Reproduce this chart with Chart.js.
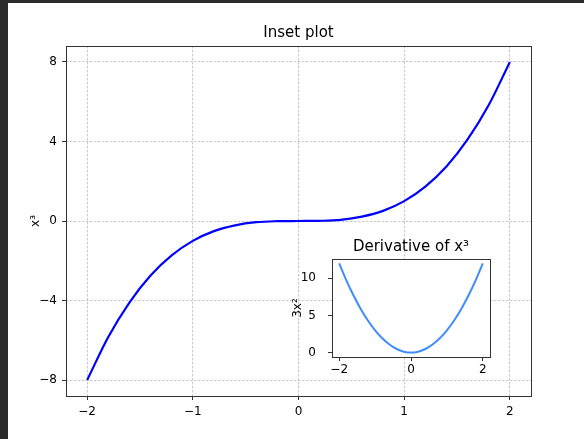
<!DOCTYPE html>
<html>
<head>
<meta charset="utf-8">
<script src="https://cdn.jsdelivr.net/npm/chart.js@4"></script>
<style>
html, body { margin: 0; padding: 0; background: #fff; }
#wrap { position: relative; width: 584px; height: 439px; overflow: hidden; }
.edge { position: absolute; background: #2b2b2b; }
#main { position: absolute; left: 0; top: 0; }
#inset { position: absolute; left: 280px; top: 228px; }
</style>
</head>
<body>
<div id="wrap">
  <div class="edge" style="left:0;top:0;width:8px;height:439px"></div>
  <div class="edge" style="left:0;top:0;width:584px;height:3px"></div>
  <canvas id="main" width="584" height="439"></canvas>
  <canvas id="inset" width="215" height="150"></canvas>
</div>
<script>
// values
var xs = [-2, -1.8, -1.6, -1.4, -1.2, -1, -0.8, -0.6, -0.4, -0.2, 0,
          0.2, 0.4, 0.6, 0.8, 1, 1.2, 1.4, 1.6, 1.8, 2];
var cube = [-8, -5.83, -4.1, -2.74, -1.73, -1, -0.51, -0.22, -0.06, -0.01, 0,
            0.01, 0.06, 0.22, 0.51, 1, 1.73, 2.74, 4.1, 5.83, 8];
var slope = [12, 9.72, 7.68, 5.88, 4.32, 3, 1.92, 1.08, 0.48, 0.12, 0,
             0.12, 0.48, 1.08, 1.92, 3, 4.32, 5.88, 7.68, 9.72, 12];

var mainXTicks = [-2, -1, 0, 1, 2];
var mainYTicks = [-8, -4, 0, 4, 8];
var insetXTicks = [-2, 0, 2];
var insetYTicks = [0, 5, 10];

var FONT = 'DejaVu Sans';

function pts(ys) {
    return xs.map(function (x, i) { return { x: x, y: ys[i] }; });
}
function fmt(v) {
    return String(v).replace('-', '\u2212');
}
function fixTicks(list) {
    return function (scale) {
        scale.ticks = list.map(function (v) { return { value: v }; });
    };
}

// white axes background + 4-sided spine like matplotlib
var frame = {
    id: 'frame',
    beforeDraw: function (chart, args, opts) {
        if (!opts.fill) return;
        var a = chart.chartArea, ctx = chart.ctx;
        ctx.save();
        ctx.fillStyle = '#fff';
        ctx.fillRect(a.left, a.top, a.right - a.left, a.bottom - a.top);
        ctx.restore();
    },
    afterDraw: function (chart) {
        var a = chart.chartArea, ctx = chart.ctx;
        ctx.save();
        ctx.strokeStyle = '#333';
        ctx.lineWidth = 1;
        ctx.strokeRect(Math.round(a.left) + 0.5, Math.round(a.top) + 0.5,
                       Math.round(a.right - a.left), Math.round(a.bottom - a.top));
        ctx.restore();
    }
};

function axis(min, max, ticks, size, horiz, gridOn, title, titlePad, tickPad) {
    return {
        type: 'linear',
        min: min,
        max: max,
        afterBuildTicks: fixTicks(ticks),
        afterFit: function (s) { if (horiz) s.height = size; else s.width = size; },
        grid: {
            drawOnChartArea: gridOn,
            color: '#b0b0b0',
            lineWidth: 0.7,
            tickLength: 4,
            tickColor: '#333',
            tickWidth: 1,
            tickBorderDash: [1, 0]
        },
        border: { display: false, dash: [2.5, 1.5] },
        ticks: {
            color: '#000',
            padding: tickPad,
            font: { family: FONT, size: 12 },
            maxRotation: 0,
            callback: fmt
        },
        title: {
            display: !!title,
            text: title,
            color: '#000',
            padding: { top: titlePad, bottom: 0 },
            font: { family: FONT, size: 12 }
        }
    };
}

new Chart(document.getElementById('main'), {
    type: 'scatter',
    data: {
        datasets: [{
            data: pts(cube),
            showLine: true,
            borderColor: '#0000ff',
            borderWidth: 2.2,
            pointRadius: 0,
            cubicInterpolationMode: 'monotone'
        }]
    },
    options: {
        responsive: false,
        animation: false,
        devicePixelRatio: 1,
        layout: { padding: { left: 0, right: 53, top: 0, bottom: 0 } },
        plugins: {
            legend: { display: false },
            tooltip: { enabled: false },
            frame: { fill: false },
            title: {
                display: true,
                text: 'Inset plot',
                fullSize: false,
                color: '#000',
                font: { family: FONT, size: 15, weight: 'normal' },
                padding: { top: 24, bottom: 4 }
            }
        },
        scales: {
            x: axis(-2.2, 2.2, mainXTicks, 43, true, true, '', 0, 5),
            y: axis(-8.8, 8.8, mainYTicks, 66, false, true, 'x\u00b3', 29, 5)
        }
    },
    plugins: [frame]
});

new Chart(document.getElementById('inset'), {
    type: 'scatter',
    data: {
        datasets: [{
            data: pts(slope),
            showLine: true,
            borderColor: '#3f8dfc',
            borderWidth: 2,
            pointRadius: 0,
            cubicInterpolationMode: 'monotone'
        }]
    },
    options: {
        responsive: false,
        animation: false,
        devicePixelRatio: 1,
        layout: { padding: { left: 0, right: 5, top: 0, bottom: 0 } },
        plugins: {
            legend: { display: false },
            tooltip: { enabled: false },
            frame: { fill: true },
            title: {
                display: true,
                text: 'Derivative of x\u00b3',
                fullSize: false,
                color: '#000',
                font: { family: FONT, size: 15, weight: 'normal' },
                padding: { top: 10, bottom: 3 }
            }
        },
        scales: {
            x: axis(-2.2, 2.2, insetXTicks, 21, true, false, '', 0, 2),
            y: axis(-0.6, 12.6, insetYTicks, 52, false, false, '3x\u00b2', 11, 12)
        }
    },
    plugins: [frame]
});
</script>
</body>
</html>
